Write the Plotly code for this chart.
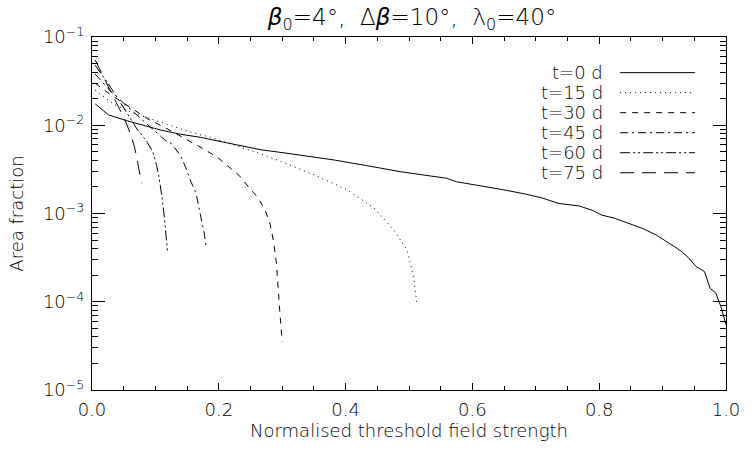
import plotly.graph_objects as go

# ---- data ----
labels = ["t=0 d", "t=15 d", "t=30 d", "t=45 d", "t=60 d", "t=75 d"]

x_t0 = [0.005, 0.026, 0.054, 0.078, 0.109, 0.140, 0.171, 0.191, 0.23, 0.268, 0.30, 0.341,
        0.382, 0.434, 0.486, 0.52, 0.559, 0.575, 0.617, 0.65, 0.684, 0.71, 0.736, 0.768,
        0.79, 0.804, 0.825, 0.85, 0.87, 0.89, 0.905, 0.919, 0.93, 0.94, 0.953, 0.966,
        0.975, 0.984, 0.992, 1.0]
y_t0 = [0.0175, 0.0131, 0.0113, 0.0101, 0.0088, 0.0079, 0.0073, 0.0068, 0.0060, 0.00525,
        0.0049, 0.00449, 0.00404, 0.00348, 0.00298, 0.00275, 0.00251, 0.00229, 0.00205,
        0.00185, 0.00166, 0.00150, 0.00130, 0.00122, 0.00108, 0.00096, 0.00088, 0.00076,
        0.00067, 0.00057, 0.00049, 0.00042, 0.00037, 0.00032, 0.00025, 0.00022, 0.000142,
        0.000125, 0.000088, 0.000055]

x_t15 = [0.005, 0.028, 0.036, 0.067, 0.114, 0.161, 0.187, 0.236, 0.268, 0.299, 0.351,
         0.403, 0.445, 0.476, 0.497, 0.507, 0.5125]
y_t15 = [0.025, 0.0185, 0.017, 0.0136, 0.0105, 0.0081, 0.0073, 0.0056, 0.0047, 0.00386,
         0.00273, 0.00185, 0.00115, 0.00065, 0.000386, 0.000192, 0.000095]

x_t30 = [0.005, 0.03, 0.06, 0.088, 0.114, 0.14, 0.16, 0.179, 0.2, 0.216, 0.232, 0.247,
         0.262, 0.273, 0.281, 0.286, 0.291, 0.296, 0.300]
y_t30 = [0.030, 0.022, 0.016, 0.0118, 0.0095, 0.0075, 0.0063, 0.00525, 0.0042, 0.0034,
         0.0027, 0.0020, 0.0015, 0.0011, 0.00075, 0.0005, 0.00027, 0.000081, 0.000035]

x_t45 = [0.005, 0.03, 0.057, 0.08, 0.1, 0.115, 0.125, 0.14, 0.148, 0.156, 0.164, 0.171,
         0.177, 0.180]
y_t45 = [0.038, 0.024, 0.016, 0.0115, 0.0085, 0.0068, 0.0062, 0.0045, 0.0033, 0.0023,
         0.0017, 0.0010, 0.0006, 0.00042]

x_t60 = [0.005, 0.025, 0.045, 0.06, 0.072, 0.085, 0.096, 0.102, 0.106, 0.110, 0.114, 0.119]
y_t60 = [0.048, 0.030, 0.018, 0.012, 0.0088, 0.0068, 0.0050, 0.0035, 0.0025, 0.0016,
         0.00092, 0.00038]

x_t75 = [0.005, 0.02, 0.031, 0.042, 0.052, 0.06, 0.067, 0.072, 0.076, 0.078]
y_t75 = [0.055, 0.034, 0.023, 0.016, 0.0115, 0.0082, 0.0057, 0.0038, 0.0028, 0.0022]

series_x = [x_t0, x_t15, x_t30, x_t45, x_t60, x_t75]
series_y = [y_t0, y_t15, y_t30, y_t45, y_t60, y_t75]

x_tickvals = [0.0, 0.2, 0.4, 0.6, 0.8, 1.0]
x_ticktext = ["0.0", "0.2", "0.4", "0.6", "0.8", "1.0"]
y_tickvals = [1e-5, 1e-4, 1e-3, 1e-2, 1e-1]
y_ticktext = ["10<sup>\u22125</sup>", "10<sup>\u22124</sup>", "10<sup>\u22123</sup>",
              "10<sup>\u22122</sup>", "10<sup>\u22121</sup>"]

title_text = "<i>\u03b2</i><sub>0</sub>=4\u00b0,  \u0394<i>\u03b2</i>=10\u00b0,  \u03bb<sub>0</sub>=40\u00b0"
x_title = "Normalised threshold field strength"
y_title = "Area fraction"

# ---- styles ----
dashes = ["solid", "1px,4px", "6px,6px", "8px,4px,2px,4px", "10px,3px,2px,3px,2px,3px", "14px,8px"]
FONT = "DejaVu Sans"
W = 200

fig = go.Figure()
for xs, ys, name, d in zip(series_x, series_y, labels, dashes):
    fig.add_trace(go.Scatter(x=xs, y=ys, mode="lines", name=name, showlegend=False,
                             line=dict(color="black", width=1, dash=d)))

# custom legend: text on the left, line sample on the right
leg_top = 0.899
leg_step = 0.0567
for i, (name, d) in enumerate(zip(labels, dashes)):
    yy = leg_top - i * leg_step
    fig.add_annotation(xref="paper", yref="paper", x=0.809, y=yy, text=name,
                       showarrow=False, xanchor="right", yanchor="middle",
                       font=dict(family=FONT, size=18, color="black", weight=W))
    fig.add_shape(type="line", xref="paper", yref="paper", x0=0.833, x1=0.951, y0=yy, y1=yy,
                  line=dict(color="black", width=1, dash=d))

minor_y = [m * 10 ** e for e in range(-5, -1) for m in range(2, 10)]

fig.update_layout(
    width=752, height=453,
    margin=dict(l=92, r=20, t=37, b=63),
    paper_bgcolor="white", plot_bgcolor="white",
    font=dict(family=FONT, size=18, color="black", weight=W),
    title=dict(text=title_text, x=0.548, xanchor="center", y=0.963, yanchor="middle",
               font=dict(family=FONT, size=23, color="black", weight=W)),
)
fig.update_xaxes(range=[0, 1], showgrid=False, zeroline=False, showline=True,
                 linecolor="black", linewidth=1, mirror="ticks",
                 ticks="inside", ticklen=7, tickcolor="black", tickwidth=1,
                 tickmode="array", tickvals=x_tickvals, ticktext=x_ticktext,
                 minor=dict(ticks="inside", ticklen=4, dtick=0.05, tickcolor="black"),
                 ticklabelstandoff=3,
                 title=dict(text=x_title, standoff=4,
                            font=dict(family=FONT, size=18, weight=W)),
                 tickfont=dict(family=FONT, size=18, weight=W))
fig.update_yaxes(type="log", range=[-5, -1], showgrid=False, zeroline=False, showline=True,
                 linecolor="black", linewidth=1, mirror="ticks",
                 ticks="inside", ticklen=13, tickcolor="black", tickwidth=1,
                 tickmode="array", tickvals=y_tickvals, ticktext=y_ticktext,
                 minor=dict(ticks="inside", ticklen=6, tickmode="array", tickvals=minor_y,
                            tickcolor="black"),
                 ticklabelstandoff=3,
                 title=dict(text=y_title, standoff=14,
                            font=dict(family=FONT, size=18, weight=W)),
                 tickfont=dict(family=FONT, size=18, weight=W))

fig.write_html("out.html")
